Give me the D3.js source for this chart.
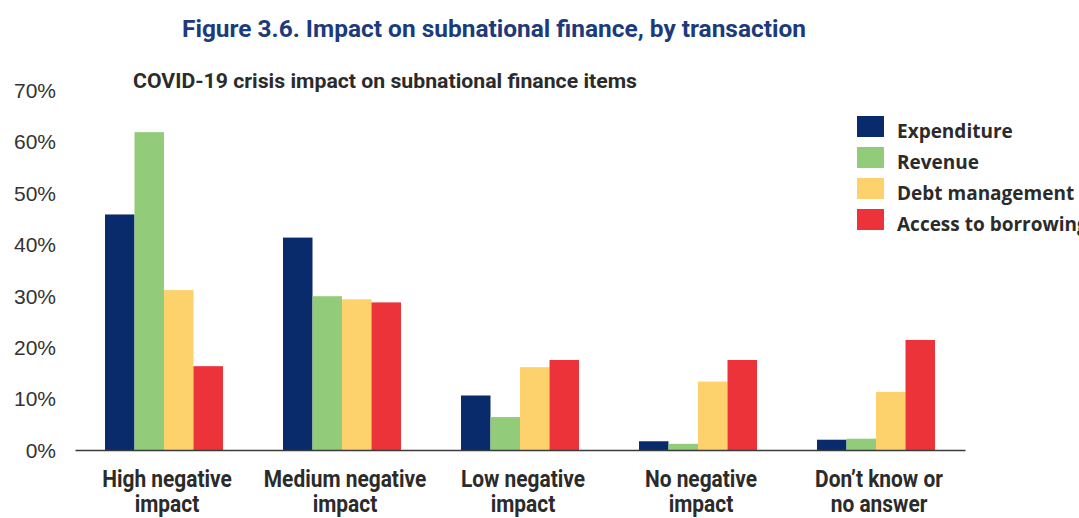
<!DOCTYPE html>
<html>
<head>
<meta charset="utf-8">
<script src="https://cdn.jsdelivr.net/npm/d3@7"></script>
<style>
  html, body { margin: 0; padding: 0; background: #ffffff; }
  svg { display: block; }
</style>
</head>
<body>
<svg id="chart" width="1079" height="518"></svg>
<script>
// ---- data ----
const categories = [
  ["High negative", "impact"],
  ["Medium negative", "impact"],
  ["Low negative", "impact"],
  ["No negative", "impact"],
  ["Don\u2019t know or", "no answer"]
];
const seriesNames = ["Expenditure", "Revenue", "Debt management", "Access to borrowing"];
const expenditure = [45.8, 41.3, 10.6, 1.7, 2.0];
const revenue     = [61.8, 29.9, 6.4, 1.2, 2.2];
const debtMgmt    = [31.1, 29.3, 16.1, 13.3, 11.3];
const access      = [16.3, 28.7, 17.5, 17.5, 21.4];
const yTicks = [0, 10, 20, 30, 40, 50, 60, 70];
const titleText = "Figure 3.6. Impact on subnational finance, by transaction";
const subtitleText = "COVID-19 crisis impact on subnational finance items";

// ---- styling ----
const colors = ["#0a2b6b", "#92cb7a", "#fdd16c", "#ec3339"];
const seriesValues = [expenditure, revenue, debtMgmt, access];
const boldFont = "Roboto, 'Open Sans', sans-serif";

const svg = d3.select("#chart");
const catKeys = categories.map(c => c.join(" "));

const x0 = d3.scaleBand().domain(catKeys).range([75, 965])
  .paddingInner(0.337).paddingOuter(0.1685);
const x1 = d3.scaleBand().domain(seriesNames).range([0, x0.bandwidth()]);
const y = d3.scaleLinear().domain([0, 70]).range([450, 90]);
const color = d3.scaleOrdinal().domain(seriesNames).range(colors);

// title
svg.append("text")
  .attr("x", 182).attr("y", 37)
  .attr("textLength", 624).attr("lengthAdjust", "spacingAndGlyphs")
  .style("font-family", boldFont)
  .style("font-weight", "bold")
  .style("font-size", "24.5px")
  .style("fill", "#1c3b7c")
  .text(titleText);

svg.append("text")
  .attr("x", 133).attr("y", 88)
  .attr("textLength", 504).attr("lengthAdjust", "spacingAndGlyphs")
  .style("font-family", boldFont)
  .style("font-weight", "bold")
  .style("font-size", "19.5px")
  .style("fill", "#2b2b2b")
  .text(subtitleText);

// y axis (labels only)
const yAxis = d3.axisLeft(y).tickValues(yTicks).tickFormat(d => d + "%").tickSize(0).tickPadding(0);
const yg = svg.append("g").attr("transform", "translate(56,0)").call(yAxis);
yg.select(".domain").remove();
yg.selectAll("text")
  .style("font-family", "'Liberation Sans', 'Open Sans', sans-serif")
  .style("font-size", "21px")
  .style("fill", "#333333")
  .attr("dy", "0.35em");

// bars
const groups = svg.append("g").selectAll("g")
  .data(catKeys)
  .join("g")
  .attr("transform", d => `translate(${x0(d)},0)`);

groups.selectAll("rect")
  .data((d, i) => seriesNames.map((s, j) => ({ s, v: seriesValues[j][i] })))
  .join("rect")
  .attr("x", d => x1(d.s))
  .attr("width", x1.bandwidth())
  .attr("y", d => y(d.v))
  .attr("height", d => y(0) - y(d.v))
  .attr("fill", d => color(d.s));

// x axis
const xAxis = d3.axisBottom(x0).tickSize(0).tickFormat("");
const xg = svg.append("g").attr("transform", `translate(0,${y(0)})`).call(xAxis);
xg.select(".domain").attr("stroke", "#3a3a3a").attr("stroke-width", 1.5);

// category labels (two lines, condensed)
const labels = svg.append("g").selectAll("text")
  .data(categories)
  .join("text")
  .attr("transform", (d, i) => `translate(${x0(catKeys[i]) + x0.bandwidth() / 2 + 3},487) scale(0.89,1)`)
  .attr("text-anchor", "middle")
  .style("font-family", boldFont)
  .style("font-weight", "bold")
  .style("font-size", "23.5px")
  .style("fill", "#2b2b2b");
labels.selectAll("tspan")
  .data(d => d)
  .join("tspan")
  .attr("x", 0)
  .attr("dy", (d, i) => i === 0 ? 0 : 25)
  .text(d => d);

// legend
const legend = svg.append("g").selectAll("g")
  .data(seriesNames)
  .join("g")
  .attr("transform", (d, i) => `translate(857,${116 + i * 31})`);
legend.append("rect")
  .attr("width", 27).attr("height", 21)
  .attr("fill", d => color(d));
legend.append("text")
  .attr("x", 40).attr("y", 21.5)
  .style("font-family", "'Open Sans', sans-serif")
  .style("font-weight", "bold")
  .style("font-size", "19px")
  .style("fill", "#2b2b2b")
  .text(d => d);
</script>
</body>
</html>
